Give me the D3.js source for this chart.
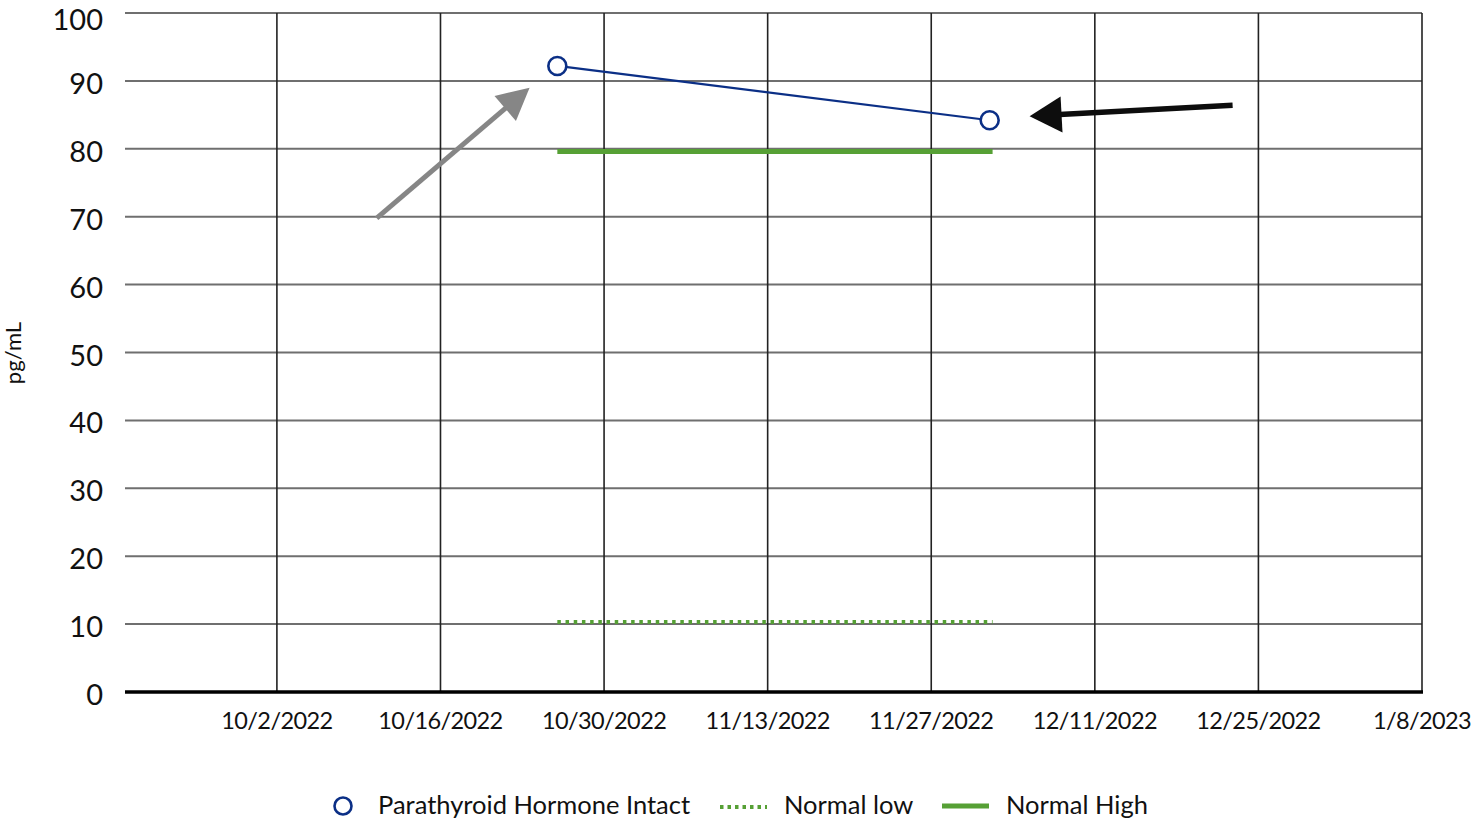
<!DOCTYPE html>
<html>
<head>
<meta charset="utf-8">
<script src="https://cdn.jsdelivr.net/npm/d3@7"></script>
<style>
  body { margin: 0; background: #fff; }
  svg { display: block; }
  text { font-family: Lato, "Open Sans", sans-serif; fill: #111; }
</style>
</head>
<body>
<svg id="chart" width="1476" height="823"></svg>
<script>
// ---- data ----
const xDomain = ["2022-09-19", "2023-01-08"];
const xTicks = ["2022-10-02", "2022-10-16", "2022-10-30", "2022-11-13", "2022-11-27", "2022-12-11", "2022-12-25", "2023-01-08"];
const xTickLabels = ["10/2/2022", "10/16/2022", "10/30/2022", "11/13/2022", "11/27/2022", "12/11/2022", "12/25/2022", "1/8/2023"];
const yTicks = [0, 10, 20, 30, 40, 50, 60, 70, 80, 90, 100];
const pthDates = ["2022-10-26", "2022-12-02"];
const pthValues = [92.2, 84.2];
const normalLowValues = [10.3, 10.3];
const normalHighValues = [79.6, 79.6];
const rangeDates = ["2022-10-26", "2022-12-02T06:00"];
const legendLabels = ["Parathyroid Hormone Intact", "Normal low", "Normal High"];
// annotation arrows: [tailDate, tailValue, tipDate, tipValue]
const grayArrow = ["2022-10-10T13:00", 69.8, "2022-10-23T15:00", 89.0];
const blackArrow = ["2022-12-22T19:00", 86.4, "2022-12-05T10:00", 84.8];

const parse = s => new Date(s.length > 10 ? s : s + "T00:00");

const W = 1476, H = 823;
const m = { left: 125, right: 54, top: 13, bottom: 131 };
const svg = d3.select("#chart");

const x = d3.scaleTime().domain(xDomain.map(parse)).range([m.left, W - m.right]);
const y = d3.scaleLinear().domain([0, 100]).range([H - m.bottom, m.top]);

// horizontal grid
svg.append("g")
  .selectAll("line").data(yTicks.filter(d => d > 0)).join("line")
  .attr("x1", m.left).attr("x2", W - m.right)
  .attr("y1", d => y(d)).attr("y2", d => y(d))
  .attr("stroke", "#6f6f6f").attr("stroke-width", 2);

// vertical grid
svg.append("g")
  .selectAll("line").data(xTicks.map(parse)).join("line")
  .attr("x1", d => x(d)).attr("x2", d => x(d))
  .attr("y1", m.top).attr("y2", y(0))
  .attr("stroke", "#222").attr("stroke-width", 1.6);

// x axis baseline
svg.append("line")
  .attr("x1", m.left).attr("x2", W - m.right + 1)
  .attr("y1", y(0)).attr("y2", y(0))
  .attr("stroke", "#000").attr("stroke-width", 3.5);

// y tick labels
svg.append("g")
  .selectAll("text").data(yTicks).join("text")
  .attr("x", 103).attr("y", d => Math.max(y(d) + 13, 30))
  .attr("text-anchor", "end")
  .style("font-size", "29px")
  .text(d => d);

// x tick labels
svg.append("g")
  .selectAll("text").data(xTicks).join("text")
  .attr("x", d => x(parse(d))).attr("y", 729)
  .attr("text-anchor", "middle")
  .style("font-size", "23.5px")
  .style("letter-spacing", "-0.6px")
  .text((d, i) => xTickLabels[i]);

// y axis title
svg.append("text")
  .attr("transform", `translate(21,${353}) rotate(-90)`)
  .attr("text-anchor", "middle")
  .style("font-size", "22px")
  .text("pg/mL");

const green = "#56a035";
const navy = "#0b2f86";

// normal high
const rangeLine = vals => d3.line().x((d, i) => x(parse(rangeDates[i]))).y(d => y(d))(vals);
svg.append("path").attr("d", rangeLine(normalHighValues))
  .attr("fill", "none").attr("stroke", green).attr("stroke-width", 5);
// normal low
svg.append("path").attr("d", rangeLine(normalLowValues))
  .attr("fill", "none").attr("stroke", green).attr("stroke-width", 4)
  .attr("stroke-dasharray", "3.5 4.7");

// PTH line
const pts = pthDates.map((d, i) => [x(parse(d)), y(pthValues[i])]);
svg.append("path").attr("d", d3.line()(pts))
  .attr("fill", "none").attr("stroke", navy).attr("stroke-width", 2.2);
svg.append("g").selectAll("circle").data(pts).join("circle")
  .attr("cx", d => d[0]).attr("cy", d => d[1]).attr("r", 9)
  .attr("fill", "#fff").attr("stroke", navy).attr("stroke-width", 2.6);

// arrows
function arrow(a, color, width, headLen, headW) {
  const x0 = x(parse(a[0])), y0 = y(a[1]);
  const x1 = x(parse(a[2])), y1 = y(a[3]);
  const dx = x1 - x0, dy = y1 - y0, L = Math.hypot(dx, dy);
  const ux = dx / L, uy = dy / L, px = -uy, py = ux;
  const bx = x1 - ux * headLen, by = y1 - uy * headLen;
  svg.append("line").attr("x1", x0).attr("y1", y0)
    .attr("x2", bx + ux * 2).attr("y2", by + uy * 2)
    .attr("stroke", color).attr("stroke-width", width);
  svg.append("polygon")
    .attr("points", [[x1, y1], [bx + px * headW / 2, by + py * headW / 2], [bx - px * headW / 2, by - py * headW / 2]].map(p => p.join(",")).join(" "))
    .attr("fill", color);
}
arrow(grayArrow, "#868686", 5, 32, 33);
arrow(blackArrow, "#0d0d0d", 5.5, 32, 36);

// legend
const ly = 806;
svg.append("circle").attr("cx", 343).attr("cy", ly).attr("r", 8.5)
  .attr("fill", "#fff").attr("stroke", navy).attr("stroke-width", 2.6);
svg.append("line").attr("x1", 720).attr("x2", 767).attr("y1", ly + 1).attr("y2", ly + 1)
  .attr("stroke", green).attr("stroke-width", 4).attr("stroke-dasharray", "3.5 4");
svg.append("line").attr("x1", 942).attr("x2", 989).attr("y1", ly).attr("y2", ly)
  .attr("stroke", green).attr("stroke-width", 5);
const legX = [378, 784, 1006];
svg.append("g").selectAll("text").data(legendLabels).join("text")
  .attr("x", (d, i) => legX[i]).attr("y", 814)
  .style("font-size", "25.5px")
  .text(d => d);
</script>
</body>
</html>
